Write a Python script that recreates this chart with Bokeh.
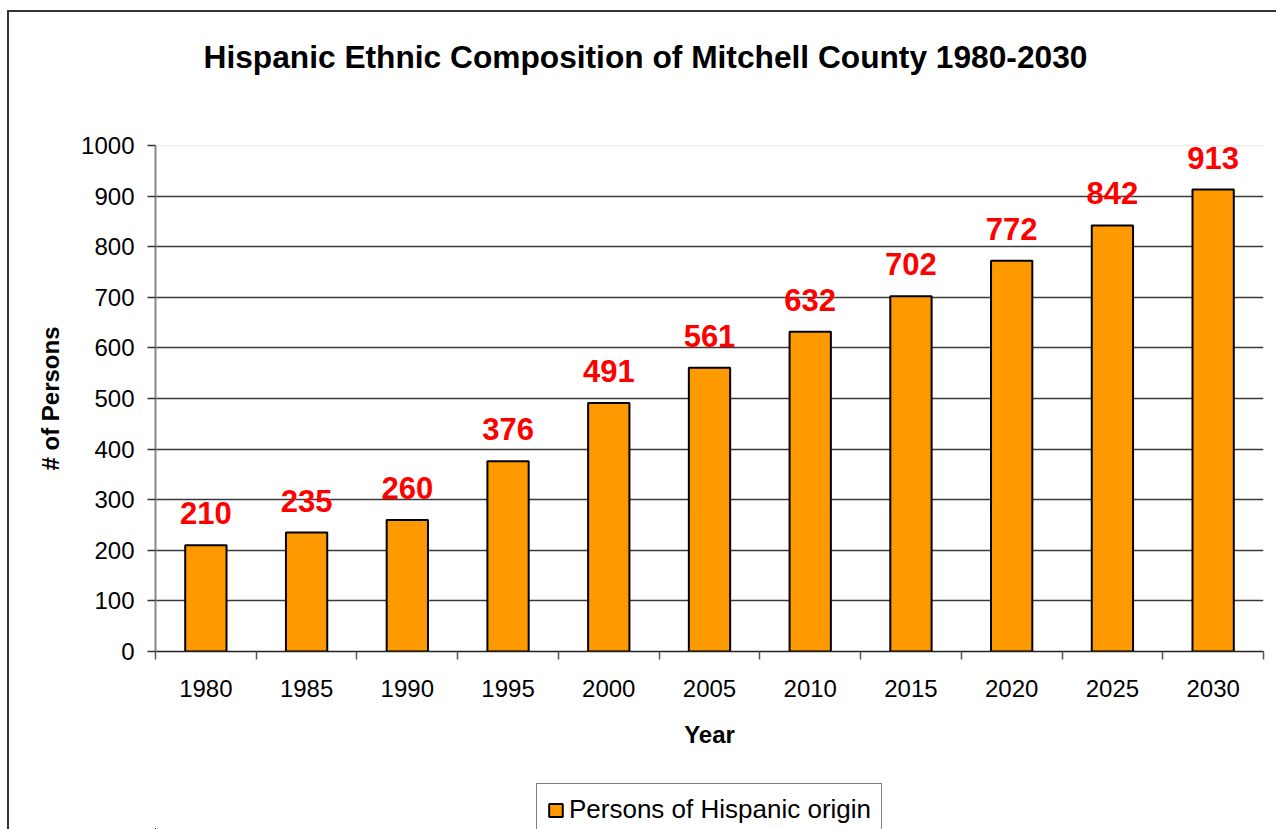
from bokeh.plotting import figure
from bokeh.layouts import column
from bokeh.models import (ColumnDataSource, FixedTicker, Span, Legend, LegendItem, Title)
from bokeh.core.properties import value
from bokeh.embed import file_html
from bokeh.resources import INLINE

years = ["1980", "1985", "1990", "1995", "2000", "2005", "2010", "2015", "2020", "2025", "2030"]
persons = [210, 235, 260, 376, 491, 561, 632, 702, 772, 842, 913]
y_ticks = [0, 100, 200, 300, 400, 500, 600, 700, 800, 900, 1000]
title_text = "Hispanic Ethnic Composition of Mitchell County 1980-2030"
series_name = "Persons of Hispanic origin"

FONT = "Liberation Sans"
BAR_FILL = "#FF9900"

xs = [i + 0.5 for i in range(len(years))]
src = ColumnDataSource(dict(x=xs, top=persons, lab=[str(v) for v in persons]))

p = figure(frame_width=1108, frame_height=506,
           x_range=(0, len(years)), y_range=(0, 1000),
           output_backend="svg", toolbar_location=None,
           min_border_left=146, min_border_right=13, min_border_top=133, min_border_bottom=110)
p.outline_line_color = None
p.background_fill_color = "white"
p.border_fill_color = "white"

bars = p.vbar(x="x", top="top", width=0.41, bottom=0, source=src,
              fill_color=BAR_FILL, line_color="black", line_width=2)
p.text(x="x", y="top", text="lab", source=src, y_offset=-32,
       text_align="center", text_baseline="alphabetic",
       text_font=value(FONT), text_font_style="bold", text_font_size="31px",
       text_color="#FF0000")

# grid
p.xgrid.visible = False
p.ygrid.ticker = FixedTicker(ticks=y_ticks[1:-1])
p.ygrid.grid_line_color = "#3a3a3a"
p.ygrid.grid_line_width = 1.5
p.add_layout(Span(location=1000, dimension="width", line_color="#dedede", line_width=1.5))

# x axis
p.xaxis.ticker = FixedTicker(ticks=xs, minor_ticks=list(range(len(years) + 1)))
p.xaxis.major_label_overrides = {x: y for x, y in zip(xs, years)}
p.xaxis.major_tick_out = 0
p.xaxis.major_tick_in = 0
p.xaxis.minor_tick_out = 8
p.xaxis.minor_tick_in = 0
p.xaxis.minor_tick_line_color = "#555555"
p.xaxis.minor_tick_line_width = 1.5
p.xaxis.axis_line_color = "#222222"
p.xaxis.axis_line_width = 1.5
p.xaxis.major_label_standoff = 20
p.xaxis.major_label_text_font = FONT
p.xaxis.major_label_text_font_size = "24px"
p.xaxis.major_label_text_color = "black"
p.xaxis.axis_label = "Year"
p.xaxis.axis_label_text_font = FONT
p.xaxis.axis_label_text_font_style = "bold"
p.xaxis.axis_label_text_font_size = "24px"
p.xaxis.axis_label_text_color = "black"
p.xaxis.axis_label_standoff = 21

# y axis
p.yaxis.ticker = FixedTicker(ticks=y_ticks)
p.yaxis.major_tick_out = 8
p.yaxis.major_tick_in = 0
p.yaxis.minor_tick_out = 0
p.yaxis.minor_tick_in = 0
p.yaxis.major_tick_line_color = "#333333"
p.yaxis.major_tick_line_width = 1.5
p.yaxis.axis_line_color = "#888888"
p.yaxis.axis_line_width = 2
p.yaxis.major_label_standoff = 13
p.yaxis.major_label_text_font = FONT
p.yaxis.major_label_text_font_size = "24px"
p.yaxis.major_label_text_color = "black"
p.yaxis.axis_label = "# of Persons"
p.yaxis.axis_label_text_font = FONT
p.yaxis.axis_label_text_font_style = "bold"
p.yaxis.axis_label_text_font_size = "24px"
p.yaxis.axis_label_text_color = "black"
p.yaxis.axis_label_standoff = 14

# title: a blank spacer next to the frame, then the real title
spacer = Title(text=" ", standoff=62, text_font_size="2px")
p.add_layout(spacer, "above")
t = Title(text=title_text, align="left", offset=48, standoff=10,
          text_font=FONT, text_font_style="bold", text_font_size="31.7px", text_color="black")
p.add_layout(t, "above")

# legend strip below the chart (its bars fall outside its view; only the legend shows)
leg = figure(frame_width=1108, frame_height=68, output_backend="svg", toolbar_location=None,
             x_range=(100, 111), y_range=(2000, 3000),
             x_axis_location=None, y_axis_location=None,
             min_border_left=143, min_border_right=16, min_border_top=0, min_border_bottom=0)
leg.outline_line_color = None
leg.xgrid.visible = False
leg.ygrid.visible = False
leg.background_fill_color = "white"
leg.border_fill_color = "white"
proxy = leg.vbar(x="x", top="top", width=0.41, bottom=0, source=src,
                 fill_color=BAR_FILL, line_color="black", line_width=2)
legend = Legend(items=[LegendItem(label=series_name, renderers=[proxy])],
                location="top_center", orientation="horizontal",
                border_line_color="black", border_line_width=1,
                label_text_font=FONT, label_text_font_size="26px", label_text_color="black",
                glyph_width=17, glyph_height=16, padding=10, margin=22, label_height=25,
                label_standoff=5, background_fill_alpha=1)
leg.add_layout(legend, "center")

page = column(p, leg, spacing=0)
page.styles = {"margin-left": "7px", "margin-top": "10px",
               "border-left": "2px solid #333333", "border-top": "2px solid #333333"}

open("out.html", "w").write(file_html(page, INLINE))
